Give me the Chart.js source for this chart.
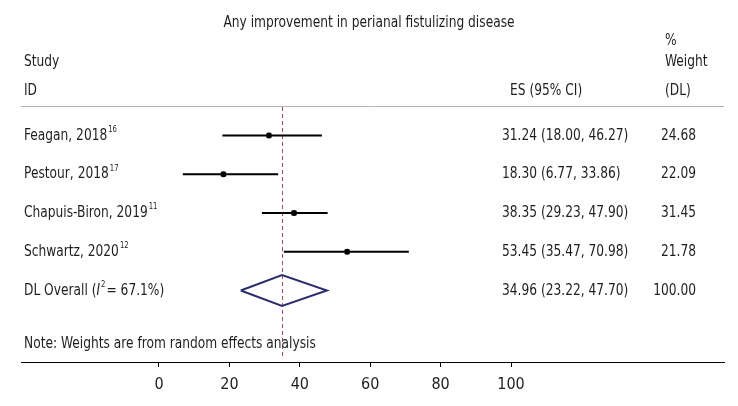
<!DOCTYPE html>
<html>
<head>
<meta charset="utf-8">
<script src="https://cdn.jsdelivr.net/npm/chart.js@4/dist/chart.umd.min.js"></script>
<style>
  html, body { margin: 0; padding: 0; background: #fff; }
  #wrap { width: 738px; height: 406px; position: relative; }
</style>
</head>
<body>
<div id="wrap"><canvas id="forest"></canvas></div>
<script>
// Data
const studies = ['Feagan, 2018', 'Pestour, 2018', 'Chapuis-Biron, 2019', 'Schwartz, 2020'];
const refs = ['16', '17', '11', '12'];
const es = [31.24, 18.30, 38.35, 53.45];
const ciLow = [18.00, 6.77, 29.23, 35.47];
const ciHigh = [46.27, 33.86, 47.90, 70.98];
const weights = [24.68, 22.09, 31.45, 21.78];
const overall = { es: 34.96, lo: 23.22, hi: 47.70, weight: 100.00, i2: 67.1 };
const tickVals = [0, 20, 40, 60, 80, 100];

const FONT = '"Liberation Sans Narrow", "DejaVu Sans Condensed", "Liberation Sans", sans-serif';
const TXT = '#1e1e1e';
const SX = 0.85;         // horizontal squeeze for the condensed look
const FS = 16;
const DIAMOND_HALF = 0.4;

function fmt(v) { return v.toFixed(2); }

// draw squeezed text, returns drawn width
function txt(ctx, s, x, y, align, font) {
    ctx.font = font || (FS + 'px ' + FONT);
    const w = ctx.measureText(s).width * SX;
    let x0 = x;
    if (align === 'right') x0 = x - w;
    if (align === 'center') x0 = x - w / 2;
    ctx.save();
    ctx.translate(x0, y);
    ctx.scale(SX, 1);
    ctx.textAlign = 'left';
    ctx.fillText(s, 0, 0);
    ctx.restore();
    return w;
}

// datasets: CI lines, weight boxes, point estimates, overall diamond
// (lower "order" is drawn on top)
const datasets = [];
studies.forEach((s, i) => {
    datasets.push({
        type: 'line', order: 3,
        data: [{ x: ciLow[i], y: i }, { x: ciHigh[i], y: i }],
        borderColor: '#000', borderWidth: 2, pointRadius: 0, fill: false
    });
});
datasets.push({
    type: 'scatter', order: 2,
    data: es.map((v, i) => ({ x: v, y: i })),
    pointStyle: 'rect',
    pointRadius: weights.map(w => 3 + w / 30),
    backgroundColor: '#b8b8b8', borderWidth: 0
});
datasets.push({
    type: 'scatter', order: 1,
    data: es.map((v, i) => ({ x: v, y: i })),
    pointStyle: 'circle', pointRadius: 3,
    backgroundColor: '#000', borderWidth: 0
});
const oy = studies.length;
datasets.push({
    type: 'line', order: 3,
    data: [
        { x: overall.lo, y: oy }, { x: overall.es, y: oy - DIAMOND_HALF },
        { x: overall.hi, y: oy }, { x: overall.es, y: oy + DIAMOND_HALF },
        { x: overall.lo, y: oy }
    ],
    borderColor: '#2c2e6c', borderWidth: 2, pointRadius: 0, fill: false, tension: 0
});

const textPlugin = {
    id: 'forestText',
    beforeDatasetsDraw(chart) {
        const { ctx, scales: { x }, chartArea } = chart;
        ctx.save();
        ctx.strokeStyle = '#b4b4b4';
        ctx.lineWidth = 1;
        ctx.beginPath();
        ctx.moveTo(chartArea.left, chartArea.top + 0.5);
        ctx.lineTo(chartArea.right, chartArea.top + 0.5);
        ctx.stroke();
        const xp = Math.round(x.getPixelForValue(overall.es)) + 0.5;
        ctx.strokeStyle = '#a34a5c';
        ctx.setLineDash([4, 3]);
        ctx.beginPath();
        ctx.moveTo(xp, chartArea.top + 1);
        ctx.lineTo(xp, chartArea.bottom - 3);
        ctx.stroke();
        ctx.restore();
    },
    afterDraw(chart) {
        const { ctx, scales: { y } } = chart;
        ctx.save();
        ctx.fillStyle = TXT;
        ctx.textBaseline = 'middle';
        txt(ctx, 'Any improvement in perianal fistulizing disease', 369, 23, 'center');
        txt(ctx, '%', 665, 41);
        txt(ctx, 'Weight', 665, 62);
        txt(ctx, 'Study', 24, 62);
        txt(ctx, 'ID', 24, 91);
        txt(ctx, 'ES (95% CI)', 510, 91);
        txt(ctx, '(DL)', 665, 91);

        studies.forEach((s, i) => {
            const yp = y.getPixelForValue(i);
            const w = txt(ctx, s, 24, yp);
            txt(ctx, refs[i], 24 + w + 1, yp - 6, 'left', '9px ' + FONT);
            txt(ctx, fmt(es[i]) + ' (' + fmt(ciLow[i]) + ', ' + fmt(ciHigh[i]) + ')', 502, yp);
            txt(ctx, fmt(weights[i]), 696, yp, 'right');
        });

        const yo = y.getPixelForValue(oy);
        let cx = 24;
        cx += txt(ctx, 'DL Overall (', cx, yo);
        cx += txt(ctx, 'I', cx, yo, 'left', 'italic ' + FS + 'px ' + FONT);
        cx += txt(ctx, '2', cx + 1, yo - 6, 'left', '9px ' + FONT) + 2;
        txt(ctx, '= ' + overall.i2.toFixed(1) + '%)', cx, yo);
        txt(ctx, fmt(overall.es) + ' (' + fmt(overall.lo) + ', ' + fmt(overall.hi) + ')', 502, yo);
        txt(ctx, fmt(overall.weight), 696, yo, 'right');

        txt(ctx, 'Note: Weights are from random effects analysis', 24, 344);
        ctx.restore();
    }
};

new Chart(document.getElementById('forest'), {
    data: { datasets },
    options: {
        responsive: true,
        maintainAspectRatio: false,
        animation: false,
        layout: { padding: { left: 21, right: 14, top: 106, bottom: 0 } },
        plugins: { legend: { display: false }, tooltip: { enabled: false }, title: { display: false } },
        scales: {
            x: {
                type: 'linear',
                min: -39.2,
                max: 160.5,
                afterBuildTicks: (scale) => { scale.ticks = tickVals.map(v => ({ value: v })); },
                afterFit: (scale) => { scale.height = 44; },
                border: { display: true, color: '#000', width: 1 },
                grid: { display: true, drawOnChartArea: false, drawTicks: true, tickLength: 5, color: '#000' },
                ticks: { color: TXT, font: { family: FONT, size: 16 }, padding: 8, maxRotation: 0 }
            },
            y: {
                type: 'linear',
                reverse: true,
                min: -0.76,
                max: 5.845,
                display: false
            }
        }
    },
    plugins: [textPlugin]
});
</script>
</body>
</html>
